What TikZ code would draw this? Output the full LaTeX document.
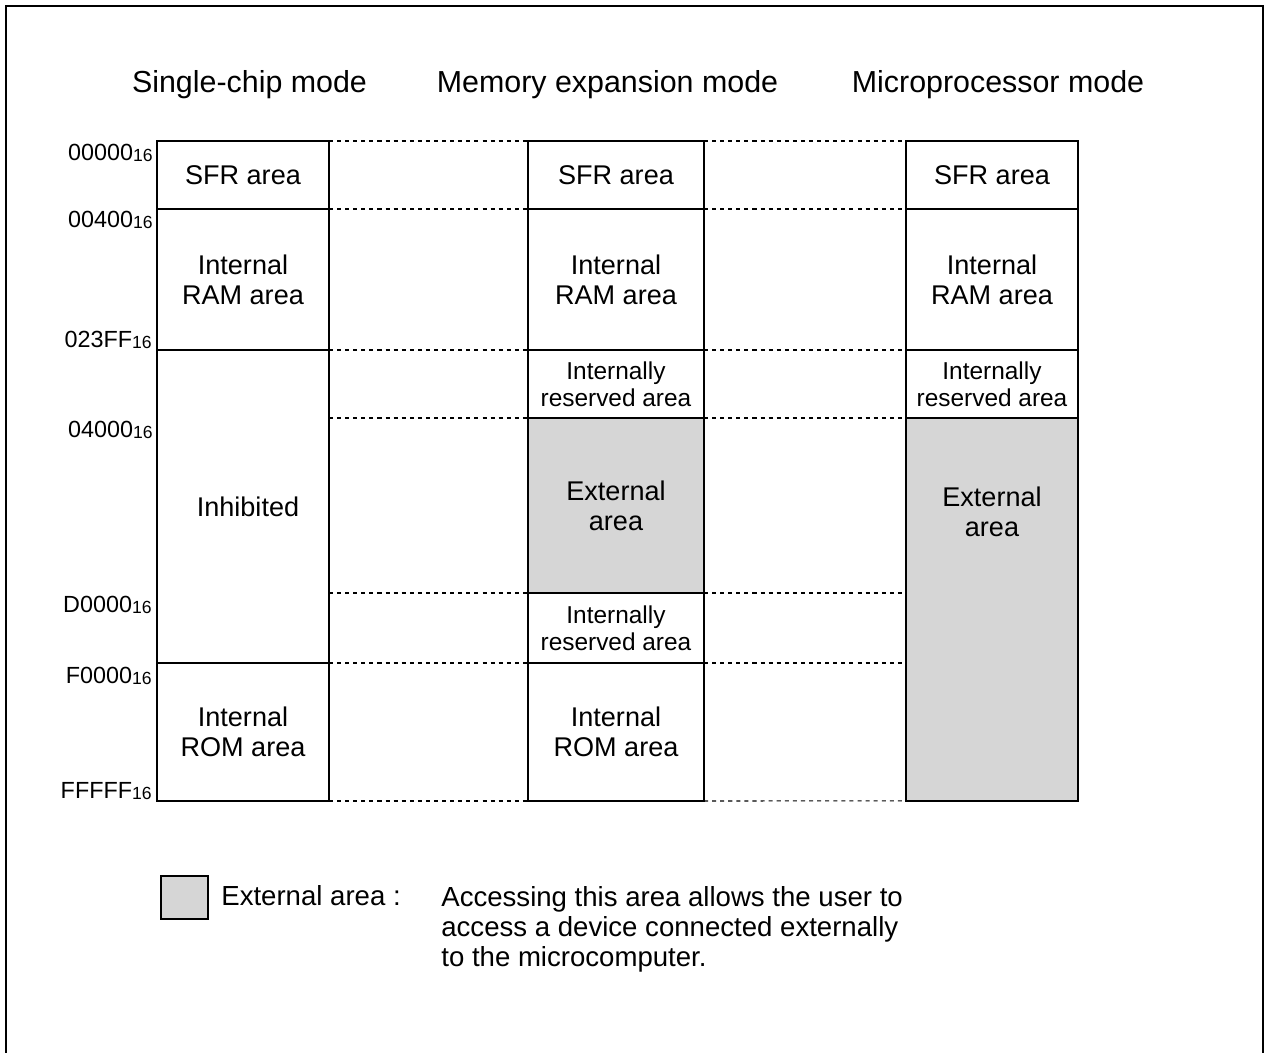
\documentclass[tikz,border=0pt]{standalone}
\usepackage{fontspec}
\setmainfont{Liberation Sans}
\definecolor{extgray}{gray}{0.84}
\newcommand{\hexaddr}[1]{#1\raisebox{-0.8pt}{\fontsize{10}{10}\selectfont 16}}
\tikzset{
    memarea/.style={draw, line width=1.1pt, anchor=north west, inner sep=0pt,
        outer sep=0pt, align=center, font=\fontsize{15.4}{17}\selectfont},
    resarea/.style={memarea, font=\fontsize{13.9}{15.4}\selectfont},
    extarea/.style={memarea, fill=extgray},
    addr/.style={anchor=base east, inner sep=0pt, font=\fontsize{13.3}{14}\selectfont},
    modetitle/.style={anchor=base, inner sep=0pt, font=\fontsize{17.3}{20}\selectfont},
    guide/.style={line width=0.6pt, dash pattern=on 2.3pt off 2.3pt},
}
\begin{document}
\begin{tikzpicture}[x=0.02cm,y=-0.02cm]
        \useasboundingbox (0,0) rectangle (1264,1052);
        %% Frame
        \draw[line width=1.5pt] (6,1070) |- (1263,6) -- (1263,1070);
        %% Titles
        \node[modetitle] (tsingle) at (249.5,92) {Single-chip mode};
        \node[modetitle] (tmemexp) at (607.5,92) {Memory expansion mode};
        \node[modetitle] (tmicro) at (998,92) {Microprocessor mode};
        %% Single-chip mode
        \node[memarea, minimum width=3.44cm, minimum height=1.36cm] (sfrA) at (157,141) {SFR area};
        \node[memarea, minimum width=3.44cm, minimum height=2.82cm] (ramA) at (157,209) {Internal\\RAM area};
        \node[memarea, minimum width=3.44cm, minimum height=6.26cm] (inhA) at (157,350) {\hspace*{0.2cm}Inhibited};
        \node[memarea, minimum width=3.44cm, minimum height=2.76cm] (romA) at (157,663) {Internal\\ROM area};
        %% Memory expansion mode
        \node[memarea, minimum width=3.52cm, minimum height=1.36cm] (sfrB) at (528,141) {SFR area};
        \node[memarea, minimum width=3.52cm, minimum height=2.82cm] (ramB) at (528,209) {Internal\\RAM area};
        \node[resarea, minimum width=3.52cm, minimum height=1.36cm] (resB) at (528,350) {Internally\\reserved area};
        \node[extarea, minimum width=3.52cm, minimum height=3.50cm] (extB) at (528,418) {External\\area};
        \node[resarea, minimum width=3.52cm, minimum height=1.40cm] (resBB) at (528,593) {Internally\\reserved area};
        \node[memarea, minimum width=3.52cm, minimum height=2.76cm] (romB) at (528,663) {Internal\\ROM area};
        %% Microprocessor mode
        \node[memarea, minimum width=3.44cm, minimum height=1.36cm] (sfrC) at (906,141) {SFR area};
        \node[memarea, minimum width=3.44cm, minimum height=2.82cm] (ramC) at (906,209) {Internal\\RAM area};
        \node[resarea, minimum width=3.44cm, minimum height=1.36cm] (resC) at (906,350) {Internally\\reserved area};
        \node[extarea, minimum width=3.44cm, minimum height=7.66cm] (extC) at (906,418) {};
        \node[align=center, inner sep=0pt, font=\fontsize{15.4}{17}\selectfont] (extClabel) at (992,512) {External\\area};
        %% Dashed guides
        \foreach \a/\b in {sfrA.north east/sfrB.north west, ramA.north east/ramB.north west,
                inhA.north east/resB.north west, inhA.north east |- extB.north west/extB.north west,
                inhA.north east |- resBB.north west/resBB.north west, romA.north east/romB.north west,
                romA.south east/romB.south west,
                sfrB.north east/sfrC.north west, ramB.north east/ramC.north west,
                resB.north east/resC.north west, extB.north east/extC.north west,
                resBB.north east/extC.north west |- resBB.north east,
                romB.north east/extC.north west |- romB.north east,
                romB.south east/extC.south west}
            \draw[guide] (\a) -- (\b);
        %% Addresses
        \node[addr] (ad0) at (153,160) {\hexaddr{00000}};
        \node[addr] (ad1) at (153,227) {\hexaddr{00400}};
        \node[addr] (ad2) at (152,347) {\hexaddr{023FF}};
        \node[addr] (ad3) at (153,437) {\hexaddr{04000}};
        \node[addr] (ad4) at (152,612) {\hexaddr{D0000}};
        \node[addr] (ad5) at (152,683) {\hexaddr{F0000}};
        \node[addr] (ad6) at (152,798) {\hexaddr{FFFFF}};
        %% Legend
        \node[memarea, fill=extgray, minimum width=0.94cm, minimum height=0.86cm] (legbox) at (161,876) {};
        \node[anchor=base west, inner sep=0pt, font=\fontsize{15.7}{17}\selectfont] (legkey) at (221,905) {External area :};
        \node[anchor=north west, inner sep=0pt, align=left, font=\fontsize{15.7}{17}\selectfont] (legtxt) at (441,886)
            {Accessing this area allows the user to\\access a device connected externally\\to the microcomputer.};
    \end{tikzpicture}
\end{document}
